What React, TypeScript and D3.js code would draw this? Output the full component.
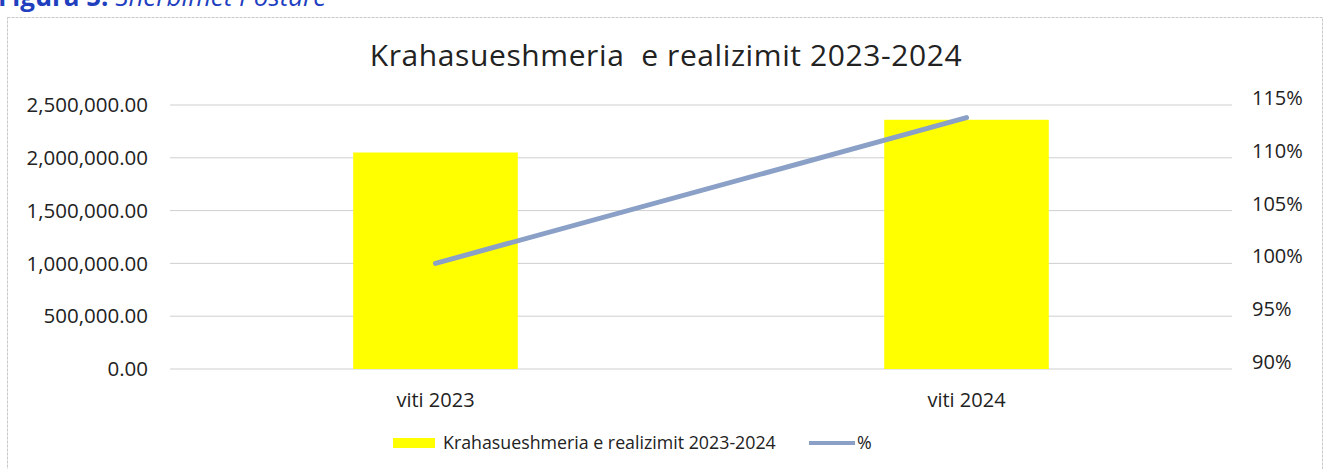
import React from 'react'
import * as d3 from 'd3'

const categories = ['viti 2023', 'viti 2024']
const barValues = [2050000, 2360000]
const pctValues = [100.0, 113.8]
const leftTicks = [0, 500000, 1000000, 1500000, 2000000, 2500000]
const rightTicks = [90, 95, 100, 105, 110, 115]

const W = 1332
const H = 469
const font = '"Open Sans", Lato, sans-serif'

export default function App() {
  const left = 170
  const right = 1232
  const top = 105
  const bottom = 369

  const x = d3.scaleBand<string>().domain(categories).range([left, right]).paddingInner(0.69).paddingOuter(0.345)
  const y = d3.scaleLinear().domain([0, 2500000]).range([bottom, top])
  const y2 = d3.scaleLinear().domain([90, 115]).range([bottom, top])
  const fmt = d3.format(',.2f')

  const line = d3.line<number>()
    .x((_, i) => (x(categories[i]) as number) + x.bandwidth() / 2)
    .y(d => y2(d))

  return (
    <div style={{ position: 'absolute', left: 0, top: 0 }}>
      <svg width={W} height={H} style={{ display: 'block', background: '#fff' }}>
        {/* caption, cut by top edge as in the scan */}
        <text x={-2} y={6} fontFamily={font} fontSize={26} fill="#1f3fbf">
          <tspan fontWeight="bold">Figura 5: </tspan>
          <tspan fontStyle="italic">Shërbimet Postare</tspan>
        </text>
        {/* chart frame */}
        <rect x={7.5} y={17.5} width={1315} height={470} fill="none" stroke="#c8c8c8" strokeDasharray="3,1" />
        <text x={666} y={66} textAnchor="middle" fontFamily={font} fontSize={30} letterSpacing={0.6} fill="#222" style={{ whiteSpace: 'pre' }}>
          {'Krahasueshmeria  e realizimit 2023-2024'}
        </text>

        {leftTicks.map(t => (
          <g key={t}>
            <line x1={left} x2={right} y1={y(t)} y2={y(t)} stroke="#cfcfcf" strokeWidth={1} />
            <text x={148} y={y(t)} dy="0.35em" textAnchor="end" fontFamily={font} fontSize={20.5} fill="#222">
              {fmt(t)}
            </text>
          </g>
        ))}
        {rightTicks.map(t => (
          <text key={t} x={1252} y={y2(t) - 7} dy="0.35em" fontFamily={font} fontSize={20} fill="#222">
            {t}%
          </text>
        ))}

        {categories.map((c, i) => (
          <rect key={c} x={x(c)} y={y(barValues[i])} width={x.bandwidth()} height={bottom - y(barValues[i])} fill="#ffff00" />
        ))}

        <path d={line(pctValues) || ''} fill="none" stroke="#8aa0c6" strokeWidth={5} strokeLinecap="round" />

        {categories.map(c => (
          <text key={c} x={(x(c) as number) + x.bandwidth() / 2} y={400} dy="0.35em" textAnchor="middle" fontFamily={font} fontSize={20} fill="#222">
            {c}
          </text>
        ))}

        {/* legend */}
        <rect x={393} y={438} width={42} height={10} fill="#ffff00" />
        <text x={443} y={443} dy="0.35em" fontFamily={font} fontSize={17.8} fill="#222">Krahasueshmeria e realizimit 2023-2024</text>
        <line x1={809} x2={855} y1={443} y2={443} stroke="#8aa0c6" strokeWidth={4} />
        <text x={857} y={443} dy="0.35em" fontFamily={font} fontSize={17.8} fill="#222">%</text>
      </svg>
    </div>
  )
}
